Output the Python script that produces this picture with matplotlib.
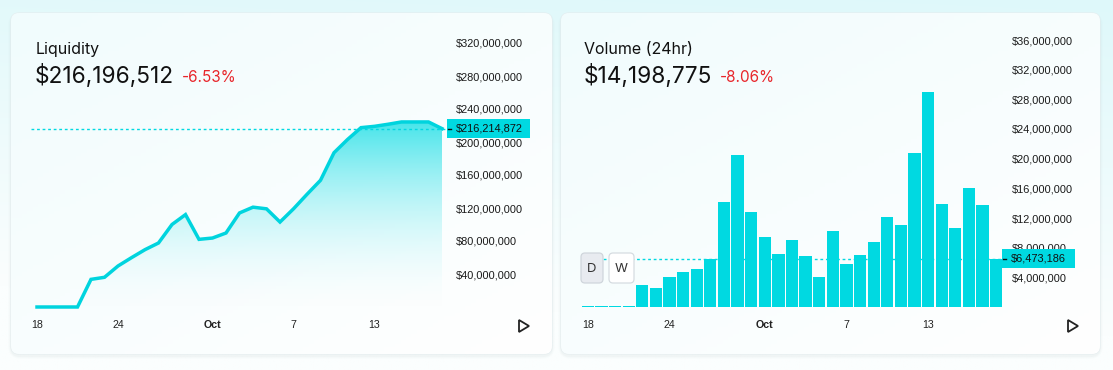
import numpy as np
import matplotlib
matplotlib.use("Agg")
import matplotlib.pyplot as plt
from matplotlib.patches import FancyBboxPatch, Rectangle, Polygon
from matplotlib.colors import LinearSegmentedColormap, to_rgb

# ---------------- data ----------------
day_index = list(range(31))                     # Sep 18 .. Oct 18
tick_positions = [0, 6, 13, 19, 25]
tick_labels = ["18", "24", "Oct", "7", "13"]

liq_title = "Liquidity"
liq_value_text = "$216,196,512"
liq_change_text = "-6.53%"
liq_current = 216214872
liquidity = [0, 0, 0, 0, 33.5e6, 36e6, 49.7e6, 59.8e6, 69.5e6, 77.6e6, 100e6, 112e6,
             82e6, 83.6e6, 89.7e6, 114e6, 121e6, 119e6, 103e6, 119e6, 136.6e6, 153.6e6,
             187e6, 203e6, 217.4e6, 219e6, 221.5e6, 224.3e6, 224.3e6, 224.3e6, 216214872]
liq_yticks = [40e6, 80e6, 120e6, 160e6, 200e6, 240e6, 280e6, 320e6]

vol_title = "Volume (24hr)"
vol_value_text = "$14,198,775"
vol_change_text = "-8.06%"
vol_current = 6473186
volume = [0.15e6, 0.15e6, 0.15e6, 0.15e6, 3.0e6, 2.6e6, 4.07e6, 4.73e6, 5.13e6, 6.46e6,
          14.16e6, 20.5e6, 12.8e6, 9.38e6, 7.12e6, 9.1e6, 6.86e6, 4.07e6, 10.2e6, 5.8e6,
          7.0e6, 8.7e6, 12.2e6, 11.0e6, 20.7e6, 29.0e6, 13.9e6, 10.6e6, 16.0e6, 13.8e6,
          6473186]
vol_yticks = [4e6, 8e6, 12e6, 16e6, 20e6, 24e6, 28e6, 32e6, 36e6]

# ---------------- style ----------------
W, H, DPI = 1113, 370, 100
CYAN = "#00d9e1"
LINE = "#00d4de"
RED = "#e8262b"
TXT = "#111111"
AX_FONT = "Liberation Sans"
AX_SIZE = 7.9
TITLE_FONT = ["Inter", "DejaVu Sans"]

fig = plt.figure(figsize=(W / DPI, H / DPI), dpi=DPI)

def px_axes(l, t, r, b, z=2):
    return fig.add_axes([l / W, 1 - b / H, (r - l) / W, (b - t) / H], zorder=z)

# background
bg = fig.add_axes([0, 0, 1, 1], zorder=0)
bg.set_xlim(0, W); bg.set_ylim(H, 0); bg.axis("off")
gy = np.linspace(0, 1, 200)[:, None]
gx = np.linspace(0, 1, 300)[None, :]
top = np.array(to_rgb("#def8fa")); bot = np.array(to_rgb("#fbfefe"))
t = np.clip(gy * 1.1 + (1 - gx) * 0.15, 0, 1)[..., None]
img = top * (1 - t) + bot * t
bg.imshow(img, extent=[0, W, H, 0], aspect="auto", zorder=0)

cards = [(11, 13, 552, 354), (561, 13, 1100, 354)]
for (l, tp, r, b) in cards:
    for k, a in [(6, 0.015), (4, 0.025), (2, 0.04)]:
        bg.add_patch(FancyBboxPatch((l - k / 2, tp - k / 2 + 2), r - l + k, b - tp + k,
                                    boxstyle="round,pad=0,rounding_size=%d" % (8 + k),
                                    fc="#7a9aa0", ec="none", alpha=a, zorder=1))
    card = FancyBboxPatch((l, tp), r - l, b - tp, boxstyle="round,pad=0,rounding_size=8",
                          fc="white", ec="#e6eef0", lw=0.8, zorder=2)
    bg.add_patch(card)
    cy = np.linspace(0, 1, 100)[:, None]
    cx = np.linspace(0, 1, 100)[None, :]
    tt = np.clip(0.55 * cy + 0.45 * cx, 0, 1)[..., None]
    cimg = np.array(to_rgb("#f1fcfd")) * (1 - tt) + np.array(to_rgb("#ffffff")) * tt
    im = bg.imshow(cimg, extent=[l, r, b, tp], aspect="auto", zorder=3)
    im.set_clip_path(card)

bg.set_xlim(0, W); bg.set_ylim(H, 0)

# overlay
ov = fig.add_axes([0, 0, 1, 1], zorder=5)
ov.set_xlim(0, W); ov.set_ylim(H, 0); ov.axis("off"); ov.patch.set_alpha(0)

def style_axes(ax, yticks, pad, xpad):
    ax.patch.set_alpha(0)
    for s in ax.spines.values():
        s.set_visible(False)
    ax.yaxis.tick_right()
    ax.set_yticks(yticks)
    ax.set_yticklabels(["${:,.0f}".format(v) for v in yticks])
    ax.tick_params(axis="y", length=0, pad=pad, labelsize=AX_SIZE, labelcolor="#1a1a1a")
    ax.set_xticks(tick_positions)
    ax.set_xticklabels(tick_labels)
    ax.tick_params(axis="x", length=0, pad=xpad, labelsize=7.7, labelcolor="#222222")
    for lab in ax.get_yticklabels() + ax.get_xticklabels():
        lab.set_fontfamily(AX_FONT)
    ax.get_xticklabels()[2].set_fontweight("bold")

def value_box(ax, value, text, x_left, x_right, dash_from):
    dy = ax.transData.transform((0, value))[1]
    py = H - dy
    ov.plot([dash_from, x_left], [py, py], ls=(0, (2, 2)), color=CYAN, lw=1.0, zorder=1)
    ov.add_patch(Rectangle((x_left, py - 9.5), x_right - x_left, 19, fc=CYAN, ec="none", zorder=2))
    ov.plot([x_left + 0.5, x_left + 4], [py, py], color="#111111", lw=1.0, zorder=3)
    ov.text(x_left + 9, py, text, ha="left", va="center", fontsize=AX_SIZE,
            family=AX_FONT, color="#111111", zorder=4)

# ---------------- Liquidity ----------------
ax1 = px_axes(37, 43, 442, 307)
x = np.array(day_index, dtype=float)
y = np.array(liquidity)
ax1.set_xlim(0, 30); ax1.set_ylim(0, 320e6)
cmap = LinearSegmentedColormap.from_list("g", [(0.88, 0.98, 0.985, 0.0), (0.0, 0.86, 0.89, 0.72)])
grad = np.linspace(0, 1, 256)[:, None]
gim = ax1.imshow(grad, extent=[0, 30, 0, max(liquidity)], origin="lower", aspect="auto",
                 cmap=cmap, zorder=1)
fb = ax1.fill_between(x, y, 0, color="none", lw=0)
gim.set_clip_path(fb.get_paths()[0], transform=ax1.transData)
ax1.plot(x, y, color=LINE, lw=2.5, solid_joinstyle="miter", zorder=3, clip_on=False)
ax1.set_xlim(0, 30); ax1.set_ylim(0, 320e6)
style_axes(ax1, liq_yticks, 10, 9)
value_box(ax1, liq_current, "${:,}".format(liq_current), 447, 530, 31)

ov.text(35.5, 54, liq_title, fontsize=11.5, family=TITLE_FONT, color=TXT, va="baseline")
ov.text(34.5, 83, liq_value_text, fontsize=16.3, family=TITLE_FONT, color=TXT, va="baseline")
ov.text(182, 82, liq_change_text, fontsize=11, family=TITLE_FONT, color=RED, va="baseline")

# ---------------- Volume ----------------
ax2 = px_axes(581, 40, 1003, 307)
ax2.bar(day_index, volume, width=0.9, color=CYAN, zorder=3)
ax2.set_xlim(-0.5, 30.5); ax2.set_ylim(0, 36e6)
style_axes(ax2, vol_yticks, 6.5, 9)
value_box(ax2, vol_current, "${:,}".format(vol_current), 1002, 1075, 581)

ov.text(584, 54, vol_title, fontsize=11.5, family=TITLE_FONT, color=TXT, va="baseline")
ov.text(583.5, 83, vol_value_text, fontsize=16.3, family=TITLE_FONT, color=TXT, va="baseline")
ov.text(720, 82, vol_change_text, fontsize=11, family=TITLE_FONT, color=RED, va="baseline")

# D / W buttons
for (l, r, fc, ec, lab) in [(581, 603, "#e8ebf0", "#d0d6dc", "D"), (609, 634, "#ffffff", "#d6dce1", "W")]:
    ov.add_patch(FancyBboxPatch((l, 253), r - l, 30, boxstyle="round,pad=0,rounding_size=4",
                                fc=fc, ec=ec, lw=0.9, zorder=6))
    ov.text((l + r) / 2, 269, lab, ha="center", va="center", fontsize=9.5,
            family=TITLE_FONT, color="#333333", zorder=7)

# play icons
for xl in (519, 1068):
    ov.add_patch(Polygon([[xl, 320], [xl, 332], [xl + 10, 326]], closed=True, fc="none",
                         ec="#222222", lw=1.3, joinstyle="miter", zorder=6))

fig.savefig("out.png", dpi=DPI)
